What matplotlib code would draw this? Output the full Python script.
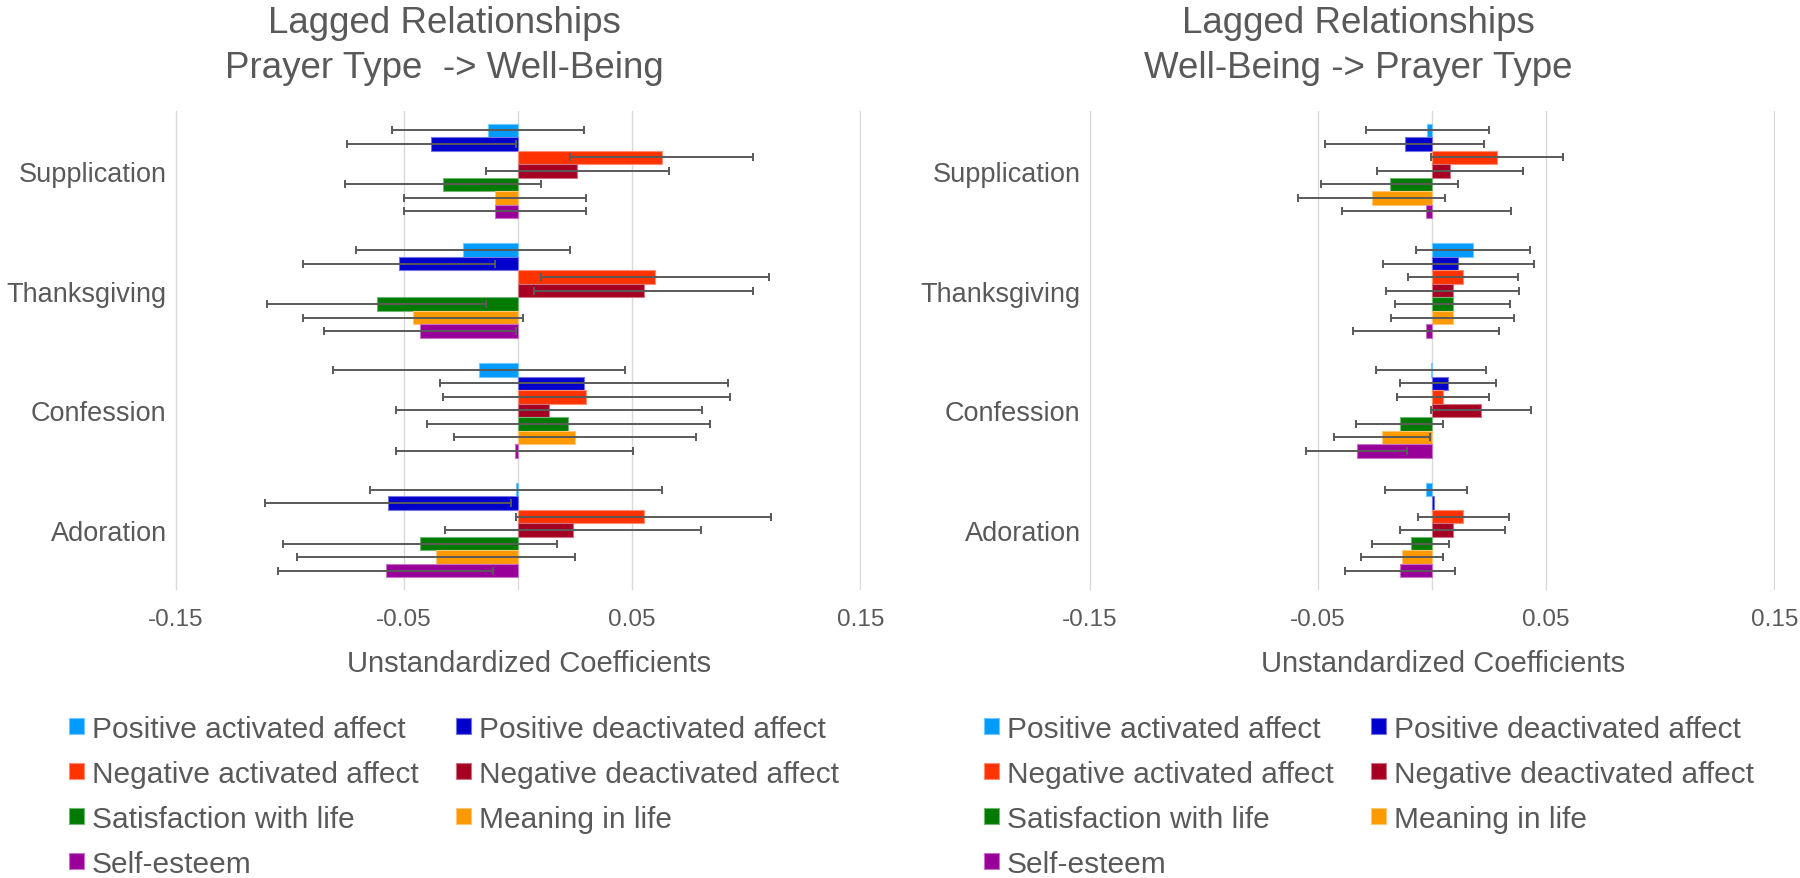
import numpy as np
import matplotlib
matplotlib.use("Agg")
import matplotlib.pyplot as plt
import matplotlib.colors as mcolors

plt.rcParams['font.family'] = ['Liberation Sans', 'DejaVu Sans']

# categories (top to bottom) and series
prayer_types = ["Supplication", "Thanksgiving", "Confession", "Adoration"]
outcomes = ["Positive activated affect", "Positive deactivated affect",
            "Negative activated affect", "Negative deactivated affect",
            "Satisfaction with life", "Meaning in life", "Self-esteem"]
colors = ["#009BFF", "#0000CC", "#FF3300", "#A50021", "#007A00", "#FF9900", "#990099"]

# Prayer Type -> Well-Being (rows: prayer type, cols: outcome)
pw_coef = [[-0.013, -0.038, 0.063, 0.026, -0.033, -0.010, -0.010],
           [-0.024, -0.052, 0.060, 0.055, -0.062, -0.046, -0.043],
           [-0.017, 0.029, 0.030, 0.0135, 0.022, 0.025, -0.0015],
           [-0.001, -0.057, 0.055, 0.024, -0.043, -0.036, -0.058]]
pw_err = [[0.042, 0.037, 0.040, 0.040, 0.043, 0.040, 0.040],
          [0.047, 0.042, 0.050, 0.048, 0.048, 0.048, 0.042],
          [0.064, 0.063, 0.063, 0.067, 0.062, 0.053, 0.052],
          [0.064, 0.054, 0.056, 0.056, 0.060, 0.061, 0.047]]

# Well-Being -> Prayer Type
wp_coef = [[-0.002, -0.012, 0.0285, 0.008, -0.0185, -0.0265, -0.0025],
           [0.018, 0.0115, 0.0137, 0.009, 0.009, 0.009, -0.0025],
           [-0.0005, 0.007, 0.0048, 0.0216, -0.0142, -0.022, -0.033],
           [-0.0028, 0.001, 0.0137, 0.009, -0.0094, -0.013, -0.014]]
wp_err = [[0.027, 0.035, 0.029, 0.032, 0.030, 0.032, 0.037],
          [0.025, 0.033, 0.024, 0.029, 0.025, 0.027, 0.032],
          [0.024, 0.021, 0.020, 0.022, 0.019, 0.021, 0.022],
          [0.018, np.nan, 0.020, 0.023, 0.017, 0.018, 0.024]]

ticks = [-0.15, -0.05, 0.05, 0.15]
tick_labels = ["-0.15", "-0.05", "0.05", "0.15"]

text_color = "#595959"
grid_color = "#D9D9D9"


def lighten(c, amount=0.45):
    r, g, b = mcolors.to_rgb(c)
    return (r + (1 - r) * amount, g + (1 - g) * amount, b + (1 - b) * amount)


# Function to draw one panel of grouped horizontal bars with error bars
def draw_panel(ax, coef, err):
    coef = np.array(coef)
    err = np.array(err)
    n_cat, n_ser = coef.shape
    h = 0.79 / n_ser
    y = np.arange(n_cat)
    for j in range(n_ser):
        pos = y + (j - (n_ser - 1) / 2) * h
        ax.barh(pos, coef[:, j], height=h, color=colors[j],
                edgecolor=lighten(colors[j]), linewidth=0.8, zorder=2,
                label=outcomes[j])
        ax.errorbar(coef[:, j], pos, xerr=err[:, j], fmt='none',
                    ecolor='#5A5A5A', elinewidth=1.4, capsize=2.8,
                    capthick=1.4, zorder=4)
    ax.axvline(0, color=grid_color, linewidth=1.0, zorder=1)
    ax.set_xlim(-0.1503, 0.1503)
    ax.set_ylim(n_cat - 0.5, -0.5)
    ax.set_yticks(y, prayer_types)
    ax.set_xticks(ticks, tick_labels)
    ax.grid(axis='x', color=grid_color, linewidth=1.0)
    ax.set_axisbelow(True)
    for s in ax.spines.values():
        s.set_visible(False)
    ax.tick_params(axis='x', length=0, pad=13, labelsize=17.5, labelcolor=text_color)
    ax.tick_params(axis='y', length=0, pad=6, labelsize=19.5, labelcolor=text_color)
    ax.text(0.516, -0.153, "Unstandardized Coefficients", transform=ax.transAxes,
            ha='center', va='center', fontsize=21, color=text_color)


fig = plt.figure(figsize=(18, 8.79), dpi=100)
ax1 = fig.add_axes([175 / 1800, 1 - 591 / 879, 686 / 1800, 479 / 879])
ax2 = fig.add_axes([1089 / 1800, 1 - 591 / 879, 686 / 1800, 479 / 879])

draw_panel(ax1, pw_coef, pw_err)
draw_panel(ax2, wp_coef, wp_err)

# titles, centred on each chart area
fig.text(444 / 1800, 1 - 33 / 879, "Lagged Relationships", ha='center', va='baseline',
         fontsize=26.5, color=text_color)
fig.text(444 / 1800, 1 - 78 / 879, "Prayer Type  -> Well-Being", ha='center', va='baseline',
         fontsize=26.5, color=text_color)
fig.text(1358 / 1800, 1 - 33 / 879, "Lagged Relationships", ha='center', va='baseline',
         fontsize=26.5, color=text_color)
fig.text(1358 / 1800, 1 - 78 / 879, "Well-Being -> Prayer Type", ha='center', va='baseline',
         fontsize=26.5, color=text_color)

# legends: row-major order in two columns
order = [0, 2, 4, 6, 1, 3, 5]
for ax, lx in [(ax1, 69 / 1800), (ax2, 984 / 1800)]:
    handles, labels = ax.get_legend_handles_labels()
    fig.legend([handles[i] for i in order], [labels[i] for i in order],
               loc='upper left', bbox_to_anchor=(lx, 1 - 716 / 879),
               bbox_transform=fig.transFigure, ncol=2, frameon=False,
               fontsize=21.5, handlelength=0.5, handleheight=0.45,
               handletextpad=0.27, columnspacing=1.26, labelspacing=0.57,
               borderpad=0, borderaxespad=0, labelcolor=text_color)

fig.savefig("out.png", dpi=100)
